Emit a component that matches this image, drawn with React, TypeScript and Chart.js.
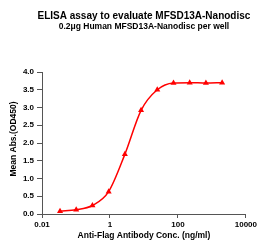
import React, { useEffect, useRef } from "react";
import { Chart, registerables } from "chart.js";

Chart.register(...registerables);

const concentrations = [0.0339, 0.1016, 0.3048, 0.9145, 2.743, 8.23, 24.69, 74.07, 222.2, 666.7, 2000];
const meanAbs = [0.08, 0.12, 0.24, 0.63, 1.68, 2.92, 3.5, 3.69, 3.7, 3.69, 3.7];
const xTicks = [0.01, 1, 100, 10000];
const yTicks = [0, 0.5, 1, 1.5, 2, 2.5, 3, 3.5, 4];

const titleText = "ELISA assay to evaluate MFSD13A-Nanodisc";
const subtitleText = "0.2μg Human MFSD13A-Nanodisc per well";
const xTitle = "Anti-Flag Antibody Conc. (ng/ml)";
const yTitle = "Mean Abs.(OD450)";

const FONT = '"Liberation Sans", Arial, sans-serif';

const titlePlugin = {
  id: "customTitles",
  afterDraw(chart: any) {
    const { ctx, chartArea } = chart;
    const cx = (chartArea.left + chartArea.right) / 2;
    ctx.save();
    ctx.fillStyle = "#000";
    ctx.textAlign = "center";
    ctx.textBaseline = "middle";
    ctx.font = `bold 10px ${FONT}`;
    ctx.fillText(titleText, cx, 8);
    ctx.font = `bold 8.5px ${FONT}`;
    ctx.fillText(subtitleText, cx, 19);
    // y-axis title
    ctx.translate(6, (chartArea.top + chartArea.bottom) / 2 - 4);
    ctx.rotate(-Math.PI / 2);
    ctx.font = `bold 8.5px ${FONT}`;
    ctx.fillText(yTitle, 0, 0);
    ctx.restore();
  },
};

export default function App() {
  const ref = useRef<HTMLCanvasElement | null>(null);

  useEffect(() => {
    if (!ref.current) return;
    const axisColor = "#555";
    const chart = new Chart(ref.current, {
      type: "scatter",
      data: {
        datasets: [
          {
            data: concentrations.map((c, i) => ({ x: c, y: meanAbs[i] })),
            showLine: true,
            cubicInterpolationMode: "monotone",
            borderColor: "#ff0000",
            backgroundColor: "#ff0000",
            borderWidth: 1.5,
            pointStyle: "triangle",
            pointRadius: 3.5,
            pointBorderWidth: 0,
          },
        ],
      },
      options: {
        animation: false,
        responsive: true,
        maintainAspectRatio: false,
        layout: { padding: { top: 64, right: 3, left: 0, bottom: 0 } },
        plugins: {
          legend: { display: false },
          tooltip: { enabled: false },
          title: { display: false },
        },
        scales: {
          x: {
            type: "logarithmic",
            min: 0.01,
            max: 10000,
            afterBuildTicks: (s: any) => {
              s.ticks = xTicks.map((v) => ({ value: v }));
            },
            afterFit: (s: any) => {
              s.height = 31;
            },
            ticks: {
              autoSkip: false,
              maxRotation: 0,
              padding: 2,
              color: "#000",
              font: { family: FONT, size: 8, weight: "bold" },
              callback: (v: any) => String(v),
            },
            grid: { display: true, drawOnChartArea: false, drawTicks: true, tickLength: 4, color: axisColor },
            border: { display: true, color: axisColor, width: 1 },
            title: {
              display: true,
              text: xTitle,
              color: "#000",
              font: { family: FONT, size: 8.5, weight: "bold" },
              padding: { top: 0, bottom: 4 },
            },
          },
          y: {
            min: 0,
            max: 4,
            afterBuildTicks: (s: any) => {
              s.ticks = yTicks.map((v) => ({ value: v }));
            },
            afterFit: (s: any) => {
              s.width = 34;
            },
            ticks: {
              padding: 3,
              color: "#000",
              font: { family: FONT, size: 8, weight: "bold" },
              callback: (v: any) => Number(v).toFixed(1),
            },
            grid: { display: true, drawOnChartArea: false, drawTicks: true, tickLength: 5, color: axisColor },
            border: { display: true, color: axisColor, width: 1 },
            title: { display: false },
          },
        },
      },
      plugins: [titlePlugin],
    } as any);
    return () => chart.destroy();
  }, []);

  return (
    <div style={{ width: 251, height: 237, position: "relative" }}>
      <canvas ref={ref} />
    </div>
  );
}
